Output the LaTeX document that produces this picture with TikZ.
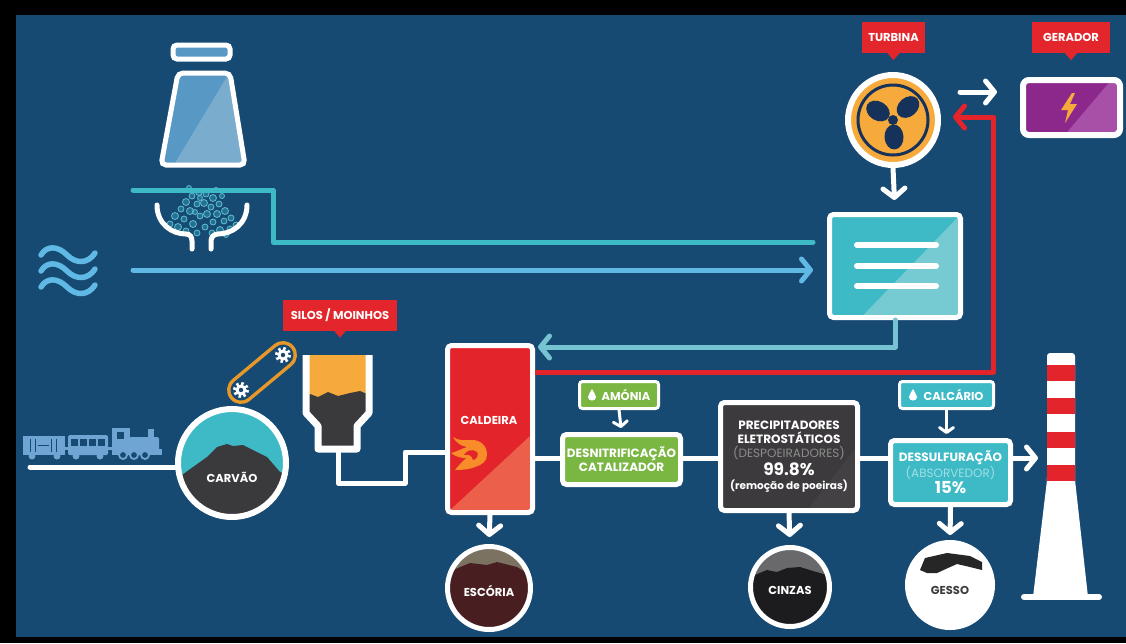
\documentclass[tikz,border=0pt]{standalone}
\usepackage{fontspec}
\setmainfont{Poppins}
\usetikzlibrary{arrows.meta,calc}

\definecolor{bgblue}{RGB}{22,74,115}
\definecolor{tealc}{RGB}{61,186,198}
\definecolor{teallt}{RGB}{118,203,211}
\definecolor{retteal}{RGB}{118,196,210}
\definecolor{waterblue}{RGB}{95,185,228}
\definecolor{bubble}{RGB}{95,190,210}
\definecolor{towerblue}{RGB}{88,152,196}
\definecolor{towerlt}{RGB}{122,172,206}
\definecolor{steamred}{RGB}{227,36,43}
\definecolor{redlt}{RGB}{236,95,75}
\definecolor{tagred}{RGB}{226,38,44}
\definecolor{turborange}{RGB}{246,170,60}
\definecolor{fannavy}{RGB}{22,50,90}
\definecolor{genpurple}{RGB}{140,40,140}
\definecolor{genlt}{RGB}{168,80,168}
\definecolor{flameorange}{RGB}{247,140,40}
\definecolor{leafgreen}{RGB}{122,182,66}
\definecolor{precgray}{RGB}{60,58,60}
\definecolor{preclt}{RGB}{67,65,67}
\definecolor{espgrey}{RGB}{140,140,140}
\definecolor{absorbtxt}{RGB}{160,222,228}
\definecolor{coal}{RGB}{58,57,60}
\definecolor{slag}{RGB}{72,30,32}
\definecolor{slagtop}{RGB}{123,114,98}
\definecolor{ash}{RGB}{28,28,30}
\definecolor{ashtop}{RGB}{105,105,108}
\definecolor{gypsumtxt}{RGB}{60,60,62}
\definecolor{trainblue}{RGB}{110,165,210}
\definecolor{beltorange}{RGB}{232,152,40}

\newcommand\tagfont{\bfseries\fontsize{11.5}{13}\selectfont}
\newcommand\boxfont{\bfseries\fontsize{12}{14}\selectfont}
\newcommand\bigpct{\bfseries\fontsize{17}{18}\selectfont}
\newcommand\waterdrop[1]{\path[fill=white, shift={(#1)}] (0,-6) .. controls (-1,-3) and (-4,-1) .. (-4,2) .. controls (-4,4.5) and (-2,5.5) .. (0,5.5) .. controls (2,5.5) and (4,4.5) .. (4,2) .. controls (4,-1) and (1,-3) .. (0,-6) -- cycle;}

\tikzset{
    pipe/.style={line width=5pt, line cap=round, line join=round},
    flow/.style={pipe, -{Straight Barb[length=9pt, width=22pt, round]}},
    thinflow/.style={line width=3pt, line cap=round, -{Straight Barb[length=5pt, width=14pt, round]}},
    box/.style={draw=white, line width=5pt, rounded corners=4pt, inner sep=0pt, align=center, text=white, font=\boxfont},
    minibox/.style={draw=white, line width=3pt, rounded corners=3pt, minimum height=27pt, inner sep=0pt, text=white, font=\tagfont},
    tag/.style={fill=tagred, text=white, font=\tagfont, minimum height=31pt, inner sep=0pt},
    disc/.style={circle, draw=white, line width=5pt, inner sep=0pt},
    lbl/.style={text=white, font=\tagfont, inner sep=0pt, text height=8pt, text depth=0pt},
    shine/.style n args={3}{path picture={
        \fill[#1] ($(path picture bounding box.north west)!#2!(path picture bounding box.north east)$) -- +(400,0)
            -- ($(path picture bounding box.south west)!#3!(path picture bounding box.south east)+(400,0)$)
            -- ($(path picture bounding box.south west)!#3!(path picture bounding box.south east)$) -- cycle;}},
}

\begin{document}
\begin{tikzpicture}[x=1pt, y=-1pt]
    \useasboundingbox (0,0) rectangle (1126,643);
    \fill[black] (0,0) rectangle (1126,643);
    \fill[bgblue] (16,15) rectangle (1126,637);

    \coordinate (turb) at (893,120);
    \coordinate (gen) at (1071.5,107.5);
    \coordinate (cond) at (895,266);
    \coordinate (boil) at (490,429);
    \coordinate (amon) at (619,395);
    \coordinate (deno) at (621.5,459.5);
    \coordinate (prec) at (789,456.5);
    \coordinate (calcr) at (946.5,395);
    \coordinate (dess) at (950.5,472.5);
    \coordinate (carv) at (232,463);
    \coordinate (esco) at (489,588);
    \coordinate (cinz) at (790,587);
    \coordinate (gess) at (950,585);

    \coordinate (cwsrc) at (133,190);
    \coordinate (cwbend) at (273,0);
    \coordinate (cwend) at (813,242);
    \coordinate (riversrc) at (133,270);
    \coordinate (riverend) at (813,270);
    \coordinate (railstart) at (30,467);
    \coordinate (siloout) at (338,450);
    \coordinate (feedbend) at (405,483);
    \coordinate (feed) at (0,452);
    \coordinate (flue) at (0,458);
    \coordinate (retn) at (0,347);
    \coordinate (steam) at (993,372);
    \coordinate (steamtop) at (993,117);
    \coordinate (powerA) at (960,92);
    \coordinate (powerB) at (997,92);
    \coordinate (stackin) at (1038,458);

    % cooling tower
    \path[draw=white, line width=5pt, fill=towerblue, rounded corners=4pt] (173,45) rectangle (230,59);
    \begin{scope}
        \clip[rounded corners=5pt] (178,73) -- (230,73) -- (245,165) -- (161,165) -- cycle;
        \path[fill=towerblue] (150,60) rectangle (260,175);
        \path[fill=towerlt] (231,70) -- (250,168) -- (172,168) -- cycle;
    \end{scope}
    \path[draw=white, line width=5pt, rounded corners=5pt] (178,73) -- (230,73) -- (245,165) -- (161,165) -- cycle;

    % filter
    \foreach \bx/\by/\br in {170/224/3, 175/216/3.5, 181/209/3, 186/202/3.5, 192/196/3, 199/192/3.5, 206/194/3,
        213/198/3.5, 219/204/3, 225/211/3.5, 231/218/3, 236/225/3, 178/227/3.5, 184/219/3, 190/211/3.5,
        197/204/3, 204/203/3.5, 211/207/3, 217/214/3.5, 224/221/3, 230/229/3, 186/231/3, 193/224/3.5,
        200/216/3, 207/214/3.5, 213/222/3, 220/230/3.5, 197/233/3, 205/227/3, 212/233/3, 226/235/2.5,
        200/198/2.5, 195/212/2.5, 222/196/2.5, 189/188/2.5, 216/190/2.5}
        \path[draw=bubble, line width=0.8pt, fill=tealc, fill opacity=0.35] (\bx,\by) circle (\br);
    \path[draw=white, line width=5pt, line cap=round] (157,205) .. controls (157,224) and (172,234) .. (186,234) .. controls (190,234) and (192,237) .. (192,241) -- (192,249);
    \path[draw=white, line width=5pt, line cap=round] (247,205) .. controls (247,224) and (232,234) .. (218,234) .. controls (214,234) and (211,237) .. (211,241) -- (211,249);

    % river
    \foreach \yy in {255,271,287}
        \path[draw=waterblue, line width=5.5pt, line cap=round] (41,\yy) .. controls (47,\yy-10) and (58,\yy-9) .. (67,\yy) .. controls (76,\yy+9) and (88,\yy+9) .. (95,\yy-2);

    % train
    \path[fill=trainblue] (23,436) rectangle (65,455);
    \foreach \sx in {30,35,51,56}
        \path[draw=bgblue, line width=1pt] (\sx,439) -- (\sx,452);
    \path[draw=bgblue, line width=1pt] (38,445) -- (49,445);
    \path[fill=trainblue] (64,447) rectangle (69,450);
    \path[fill=trainblue, rounded corners=1.5pt] (68,435) rectangle (108,455);
    \foreach \wx in {71,80,89,98}
        \path[fill=bgblue] (\wx,439) rectangle (\wx+7,446);
    \path[fill=trainblue] (107,447) rectangle (113,450);
    \path[fill=trainblue] (112,428) rectangle (130,455);
    \path[fill=bgblue] (117,432) rectangle (124,439);
    \path[fill=trainblue, rounded corners=2pt] (129,437) rectangle (159,452);
    \path[fill=trainblue] (148,429) rectangle (154,438);
    \path[fill=trainblue] (112,449) rectangle (162,455);
    \foreach \tx in {32,57,76,100}
        \path[fill=trainblue] (\tx,456) circle (3.5);
    \foreach \tx in {123,134,145}
        \path[draw=trainblue, line width=1.8pt, fill=bgblue] (\tx,455) circle (4);

    % conveyor belt
    \path[draw=beltorange, line width=28pt, line cap=round] (241,390) -- (283,355);
    \path[draw=bgblue, line width=21pt, line cap=round] (241,390) -- (283,355);
    \foreach \g in {(241,390),(283,355)} {
        \path[draw=white, line width=3pt, dash pattern=on 2.5pt off 2.6pt] \g circle (6.5);
        \path[fill=white] \g circle (5.5);
        \path[fill=bgblue] \g circle (2.2);
    }

    % silo
    \begin{scope}
        \clip (306,355) -- (306,413) -- (318,426) -- (318,449) -- (357,449) -- (357,426) -- (369,413) -- (369,355) -- cycle;
        \path[fill=turborange] (300,350) rectangle (380,460);
        \path[fill=coal] (300,398) -- (310,394) -- (318,397) -- (328,392) -- (338,396) -- (350,393) -- (360,391) -- (372,396) -- (380,460) -- (300,460) -- cycle;
    \end{scope}
    \path[draw=white, line width=7pt, line join=round] (306,355) -- (306,413) -- (318,426) -- (318,449) -- (357,449) -- (357,426) -- (369,413) -- (369,355);

    % chimney
    \begin{scope}
        \clip[rounded corners=3pt] (1047,480) -- (1047,353) -- (1075,353) -- (1075,480) -- (1088,597) -- (1033,597) -- cycle;
        \path[fill=white] (1020,345) rectangle (1100,600);
        \foreach \yy in {365,398,432,465}
            \path[fill=steamred] (1030,\yy) rectangle (1090,\yy+16);
    \end{scope}
    \path[draw=white, line width=6pt, line cap=round] (1024,597) -- (1099,597);

    % plant units
    \node[disc, fill=turborange, minimum size=90pt, line width=6pt] (turbine) at (turb) {};
    \path[draw=fannavy, line width=3pt] (turb) circle (35);
    \path[fill=fannavy, rotate around={149:(878,111)}] (878,111) ellipse (12.5 and 9.5);
    \path[fill=fannavy, rotate around={41:(908,107)}] (908,107) ellipse (12.5 and 9.5);
    \path[fill=fannavy, rotate around={-87:(894,137)}] (894,137) ellipse (12.5 and 9.5);
    \path[fill=fannavy] (turb) circle (5);

    \node[box, line width=6pt, rounded corners=6pt, fill=genpurple, shine={genlt}{0.91}{0.43}, minimum width=97pt, minimum height=55pt] (generator) at (gen) {};
    \path[fill=turborange] (1072,93) -- (1061,110) -- (1068,110) -- (1065,123) -- (1077,104) -- (1070,104) -- (1075,93) -- cycle;

    \node[box, fill=tealc, shine={teallt}{1.0}{0.24}, minimum width=131pt, minimum height=103pt] (condenser) at (cond) {};
    \foreach \yy in {245,266,286}
        \path[draw=white, line width=6pt, line cap=round] (857,\yy) -- (936,\yy);

    \node[box, fill=steamred, shine={redlt}{2.12}{0}, minimum width=85pt, minimum height=167pt] (boiler) at (boil) {};
    \node[lbl] (boilertxt) at (489,420) {CALDEIRA};
    \begin{scope}[shift={(470,455)}]
        \path[fill=flameorange] (17,0) .. controls (17,-10) and (10,-15) .. (2,-15)
            .. controls (-6,-15) and (-12,-14) .. (-17,-18)
            .. controls (-13,-11) and (-8,-9) .. (-3,-8)
            .. controls (-9,-6) and (-14,-3) .. (-19,-2)
            .. controls (-14,2) and (-9,3) .. (-4,3)
            .. controls (-8,7) and (-12,11) .. (-15,15)
            .. controls (-6,15) and (0,14) .. (5,12)
            .. controls (12,10) and (17,6) .. (17,0) -- cycle;
        \path[fill=steamred] (7,-3) .. controls (2,-7) and (-4,-4) .. (-6,0) .. controls (-2,-1) and (2,0) .. (3,5) .. controls (7,4) and (9,0) .. (7,-3) -- cycle;
    \end{scope}

    \node[minibox, fill=leafgreen, minimum width=79pt] (ammonia) at (amon) {\hspace{14pt}AMÓNIA};
    \waterdrop{592,395}
    \node[box, fill=leafgreen, minimum width=118pt, minimum height=50pt] (denox) at (deno) {DESNITRIFICAÇÃO\\CATALIZADOR};

    \node[box, fill=precgray, shine={preclt}{1.25}{0.63}, minimum width=137pt, minimum height=108pt] (esp) at (prec)
        {PRECIPITADORES\\ELETROSTÁTICOS\\{\mdseries\color{espgrey}(DESPOEIRADORES)}\\[2pt]{\bigpct 99.8\%}\\{\fontsize{10.5}{12}\selectfont(remoção de poeiras)}};

    \node[minibox, fill=tealc, minimum width=94pt] (limestone) at (calcr) {\hspace{14pt}CALCÁRIO};
    \waterdrop{913,395}
    \node[box, fill=tealc, minimum width=120pt, minimum height=64pt] (fgd) at (dess)
        {DESSULFURAÇÃO\\{\mdseries\color{absorbtxt}(ABSORVEDOR)}\\[1pt]{\fontsize{16.5}{18}\selectfont 15\%}};

    % heaps
    \node[disc, fill=tealc, minimum size=108pt, line width=6pt, path picture={
        \fill[coal, shift={(path picture bounding box.center)}] (-60,14) -- (-50,12) -- (-39,4) -- (-25,-6) -- (-15,-16) -- (-5,-19) -- (1,-17) -- (11,-18) -- (21,-13) -- (35,-6) -- (48,9) -- (60,14) -- (60,60) -- (-60,60) -- cycle;}] (coalpile) at (carv) {};
    \node[lbl] (coaltxt) at (232,478) {CARVÃO};

    \node[disc, fill=slagtop, minimum size=83pt, path picture={
        \fill[slag, shift={(path picture bounding box.center)}] (-50,-14) -- (-36,-18) -- (-19,-25) -- (-2,-23) -- (8,-26) -- (28,-21) -- (38,-15) -- (50,-12) -- (50,50) -- (-50,50) -- cycle;}] (slag) at (esco) {};
    \node[lbl] (slagtxt) at (489,592) {ESCÓRIA};

    \node[disc, fill=ashtop, minimum size=79pt, path picture={
        \fill[ash, shift={(path picture bounding box.center)}] (-50,-10) -- (-35,-12) -- (-23,-17) -- (-13,-15) -- (-3,-19) -- (10,-20) -- (23,-16) -- (37,-12) -- (50,-10) -- (50,50) -- (-50,50) -- cycle;}] (ash) at (cinz) {};
    \node[lbl] (ashtxt) at (790,590) {CINZAS};

    \node[disc, fill=white, minimum size=85pt, path picture={
        \fill[black!85, shift={(path picture bounding box.center)}] (-30,-15) -- (-25,-27) -- (-3,-32) -- (20,-29) -- (32,-23) -- (32,-15) -- (20,-18) -- (7,-21) -- (-2,-17) -- (-13,-12) -- (-23,-12) -- cycle;}] (gypsum) at (gess) {};
    \node[lbl, text=gypsumtxt] (gypsumtxt) at (950,590) {GESSO};

    % tags
    \node[tag, minimum width=63pt] (tagturb) at (893.5,37.5) {TURBINA};
    \node[tag, minimum width=78pt] (taggen) at (1071,37.5) {GERADOR};
    \node[tag, minimum width=114pt] (tagsilo) at (340,315) {SILOS / MOINHOS};
    \foreach \t in {tagturb,taggen,tagsilo}
        \path[fill=tagred] ([xshift=-6pt]\t.south) -- ([xshift=6pt]\t.south) -- ([yshift=-7pt]\t.south) -- cycle;

    % water and steam circuits
    \path[draw=tealc, pipe] (cwsrc) -- (cwsrc -| cwbend) -- (cwbend |- cwend) -- (cwend);
    \path[draw=waterblue, flow] (riversrc) -- (riverend);
    \path[draw=retteal, flow, shorten >=3pt] (condenser.south) |- (boiler.east |- retn);
    \path[draw=steamred, flow, line cap=butt, shorten >=12pt] (boiler.east |- steam) -- (steam) -- (steamtop) -- ([yshift=3pt]turbine.east);
    \path[draw=white, flow, shorten >=12pt] (turbine.south) -- (condenser.north);
    \path[draw=white, flow] (powerA) -- (powerB);

    % coal and flue gas line
    \path[draw=white, pipe] (railstart) -- (coalpile.west |- railstart);
    \path[draw=white, pipe] (siloout) |- (feedbend) |- (boiler.west |- feed);
    \path[draw=white, pipe, line cap=butt] (boiler.east |- flue) -- (denox.west |- flue);
    \path[draw=white, pipe, line cap=butt] (denox.east |- flue) -- (esp.west |- flue);
    \path[draw=white, pipe, line cap=butt] (esp.east |- flue) -- (fgd.west |- flue);
    \path[draw=white, flow, line cap=butt] (fgd.east |- flue) -- (stackin);
    \path[draw=white, thinflow, shorten >=4pt] (ammonia.south) -- (denox.north);
    \path[draw=white, thinflow, shorten >=4pt] (limestone.south) -- (limestone.south |- fgd.north);

    % residues
    \path[draw=white, flow, shorten >=7pt] (boiler.south) -- (slag.north);
    \path[draw=white, flow, shorten >=8pt] (esp.south) -- (ash.north);
    \path[draw=white, flow, shorten >=5pt] (fgd.south) -- (gypsum.north);
\end{tikzpicture}
\end{document}
